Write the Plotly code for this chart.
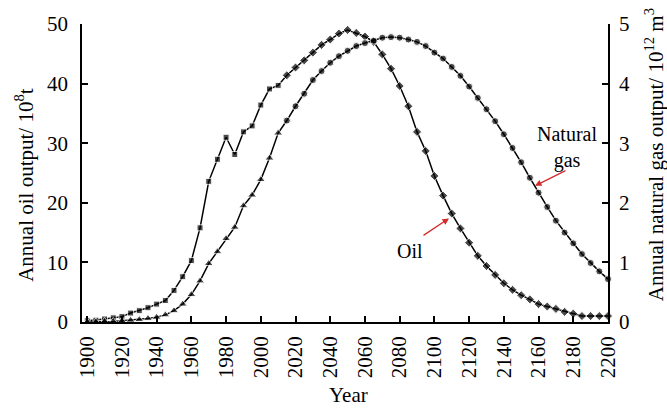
import plotly.graph_objects as go

years = list(range(1900, 2201, 5))

oil_output = [0.2, 0.3, 0.5, 0.7, 0.9, 1.5, 1.9, 2.4, 3.0, 3.6,
              5.3, 7.6, 10.3, 15.8, 23.6, 27.3, 31.0, 28.1, 31.9, 32.9,
              36.4, 39.1, 39.7,
              41.4, 42.7, 43.9, 45.2, 46.5, 47.4, 48.4, 49.0, 48.5, 47.9,
              47.0, 44.9, 42.5, 39.6, 36.2, 31.9, 28.7, 24.5, 21.2, 18.2,
              15.7, 13.3, 11.1, 9.4, 7.9, 6.5, 5.4, 4.5, 3.8, 3.0,
              2.6, 2.2, 1.7, 1.4, 1.0, 1.0, 1.0, 1.0]

gas_output = [0.0, 0.0, 0.01, 0.01, 0.02, 0.03, 0.04, 0.06, 0.08, 0.12,
              0.19, 0.30, 0.46, 0.69, 0.98, 1.18, 1.40, 1.59, 1.95, 2.13,
              2.39, 2.75, 3.17,
              3.38, 3.62, 3.83, 4.06, 4.21, 4.35, 4.46, 4.55, 4.63, 4.68,
              4.72, 4.77, 4.78, 4.77, 4.74, 4.70, 4.63, 4.52, 4.42, 4.28,
              4.13, 3.95, 3.76, 3.57, 3.37, 3.15, 2.92, 2.68, 2.42, 2.17,
              1.93, 1.70, 1.50, 1.32, 1.14, 0.99, 0.85, 0.72]

history_end = 2010
x_ticks = list(range(1900, 2201, 20))
oil_ticks = [0, 10, 20, 30, 40, 50]
gas_ticks = [0, 1, 2, 3, 4, 5]

FONT = "Liberation Serif, Times New Roman, serif"

oil_symbols = ["square" if y <= history_end else "diamond" for y in years]
oil_sizes = [6 if y <= history_end else 7 for y in years]
gas_symbols = ["triangle-up" if y <= history_end else "circle" for y in years]
gas_sizes = [8 if y <= history_end else 7 for y in years]

fig = go.Figure()
fig.add_trace(go.Scatter(
    x=years, y=oil_output, mode="lines+markers", name="Oil",
    line=dict(color="black", width=1.5),
    marker=dict(symbol=oil_symbols, size=oil_sizes, color="black"),
    cliponaxis=False, showlegend=False))
fig.add_trace(go.Scatter(
    x=years, y=gas_output, mode="lines+markers", name="Natural gas",
    yaxis="y2",
    line=dict(color="black", width=1.5),
    marker=dict(symbol=gas_symbols, size=gas_sizes, color="black"),
    cliponaxis=False, showlegend=False))

L, R, T, B = 82, 59, 20, 87
W, H = 667, 409
pw = W - L - R
ph = H - T - B

def px(x):
    return (x - L) / pw

def py(y):
    return (H - B - y) / ph

axis_common = dict(ticks="inside", ticklen=6, tickwidth=1.5, tickcolor="black",
                   showline=True, linecolor="black", linewidth=1.5,
                   showgrid=False, zeroline=False)

fig.update_layout(
    width=W, height=H,
    margin=dict(l=L, r=R, t=T, b=B, pad=0),
    paper_bgcolor="white", plot_bgcolor="white",
    font=dict(family=FONT, size=21, color="black"),
    xaxis=dict(range=[1897, 2200], tickmode="array", tickvals=x_ticks,
               ticktext=[str(v) for v in x_ticks], tickangle=-90,
               ticklabelstandoff=4,
               tickfont=dict(family=FONT, size=21), **axis_common),
    yaxis=dict(range=[0, 50], tickmode="array", tickvals=oil_ticks,
               ticklabelstandoff=8,
               tickfont=dict(family=FONT, size=21), **axis_common),
    yaxis2=dict(range=[0, 5], tickmode="array", tickvals=gas_ticks,
                overlaying="y", side="right", ticklabelstandoff=5,
                tickfont=dict(family=FONT, size=21), **axis_common),
)

annotations = [
    dict(text="Year", x=px(348), y=py(396), xref="paper", yref="paper",
         showarrow=False, font=dict(family=FONT, size=21),
         xanchor="center", yanchor="middle"),
    dict(text="Annual oil output/ 10<sup>8</sup>t", x=px(25), y=py(183),
         xref="paper", yref="paper", showarrow=False, textangle=-90,
         font=dict(family=FONT, size=21), xanchor="center", yanchor="middle"),
    dict(text="Annual natural gas output/ 10<sup>12</sup> m<sup>3</sup>",
         x=px(654), y=py(153), xref="paper", yref="paper", showarrow=False,
         textangle=-90, font=dict(family=FONT, size=21),
         xanchor="center", yanchor="middle"),
    dict(text="Natural<br>gas", x=px(567), y=py(145), xref="paper",
         yref="paper", showarrow=False, font=dict(family=FONT, size=20),
         xanchor="center", yanchor="middle"),
    dict(text="Oil", x=px(410), y=py(250), xref="paper", yref="paper",
         showarrow=False, font=dict(family=FONT, size=20),
         xanchor="center", yanchor="middle"),
    dict(text="", x=px(535), y=py(184), xref="paper", yref="paper",
         showarrow=True, ax=32, ay=-16, axref="pixel", ayref="pixel",
         arrowhead=2, arrowsize=1, arrowwidth=1.3, arrowcolor="#d22b2b"),
    dict(text="", x=px(449), y=py(217), xref="paper", yref="paper",
         showarrow=True, ax=-27, ay=18, axref="pixel", ayref="pixel",
         arrowhead=2, arrowsize=1, arrowwidth=1.3, arrowcolor="#d22b2b"),
]
fig.update_layout(annotations=annotations)

fig.write_html("out.html", config={"displayModeBar": False},
               post_script="document.body.style.margin='0';document.body.style.padding='0';")
